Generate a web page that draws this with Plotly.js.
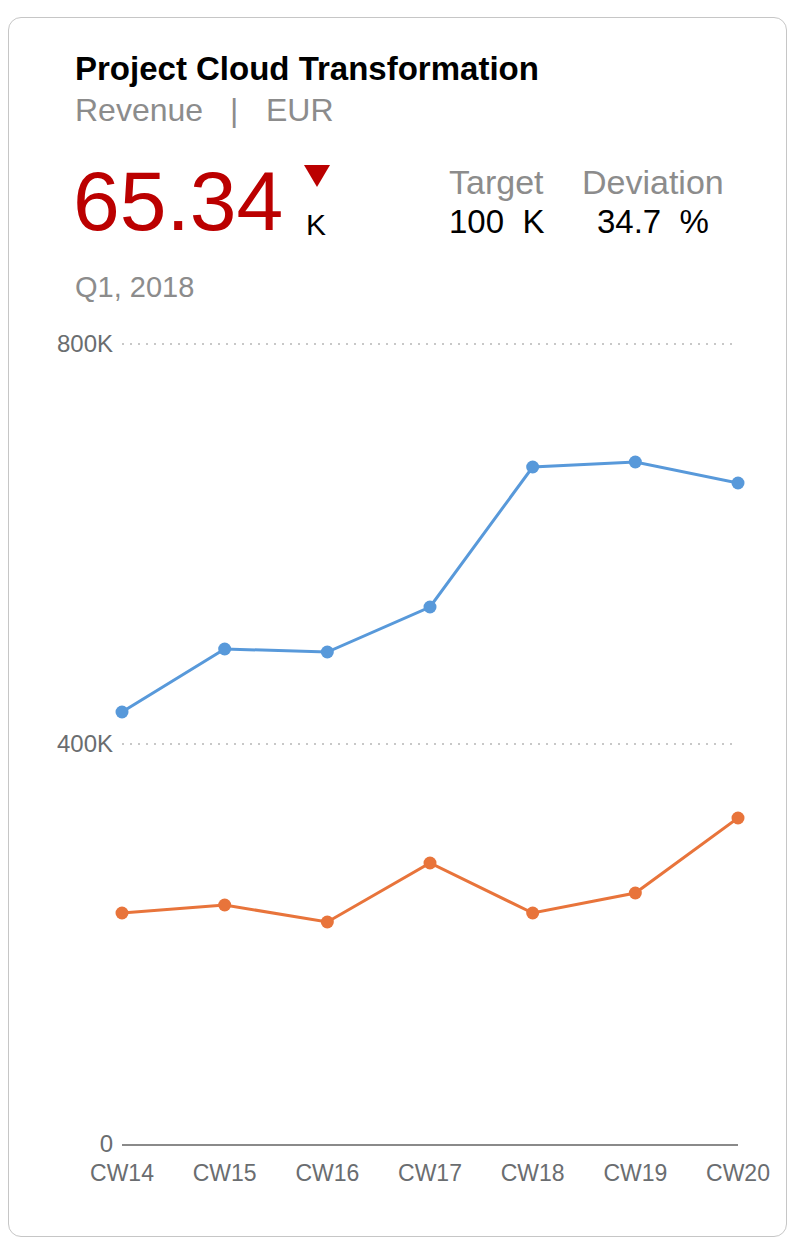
<!DOCTYPE html>
<html>
<head>
<meta charset="utf-8">
<script src="https://cdn.plot.ly/plotly-3.0.1.min.js"></script>
<style>
  html, body { margin: 0; padding: 0; background: #ffffff; }
  body { width: 796px; height: 1254px; position: relative; overflow: hidden;
         font-family: "Liberation Sans", Arial, sans-serif; }
  .card { position: absolute; left: 8px; top: 17px; width: 779px; height: 1220px;
          border: 1px solid #c6c6c6; border-radius: 13px; box-sizing: border-box; }
  .t { position: absolute; white-space: pre; line-height: 1; }
  #chart { position: absolute; left: 0; top: 0; width: 796px; height: 1254px; }
  .tri { position: absolute; left: 304px; top: 165px; width: 0; height: 0;
         border-left: 13px solid transparent; border-right: 13px solid transparent;
         border-top: 22px solid #bb0000; }
</style>
</head>
<body>
<div class="card"></div>
<div id="chart"></div>
<div class="t" style="left:75px; top:52px; font-size:33px; font-weight:bold; color:#000;">Project Cloud Transformation</div>
<div class="t" style="left:75px; top:94px; font-size:32px; color:#8c8c8c;">Revenue</div>
<div class="t" style="left:230px; top:94px; font-size:32px; color:#8c8c8c;">|</div>
<div class="t" style="left:266px; top:94px; font-size:32px; color:#8c8c8c;">EUR</div>
<div class="t" style="left:73px; top:159px; font-size:84px; color:#bb0000;">65.34</div>
<div class="tri"></div>
<div class="t" style="left:306px; top:210px; font-size:30px; color:#000;">K</div>
<div class="t" style="left:449px; top:165px; font-size:34px; color:#8c8c8c;">Target</div>
<div class="t" style="left:582px; top:165px; font-size:34px; color:#8c8c8c;">Deviation</div>
<div class="t" style="left:449px; top:205px; font-size:33px; color:#000;">100  K</div>
<div class="t" style="left:597px; top:205px; font-size:33px; color:#000;">34.7  %</div>
<div class="t" style="left:75px; top:273px; font-size:29px; color:#8c8c8c;">Q1, 2018</div>
<script>
// Calendar weeks shown on the x axis
const weeks = ['CW14', 'CW15', 'CW16', 'CW17', 'CW18', 'CW19', 'CW20'];
// Weekly revenue in thousands of EUR
const revenueActual = [432, 495, 492, 537, 677, 682, 661];
const revenueSecond = [231, 239, 222, 281, 231, 251, 326];
// Value axis ticks
const yTickValues = [0, 400, 800];
const yTickLabels = ['0', '400K', '800K'];

const xIdx = weeks.map((_, i) => i);

const traces = [
  {
    x: xIdx, y: revenueActual, type: 'scatter', mode: 'lines+markers',
    line: { color: '#5899DA', width: 3 },
    marker: { color: '#5899DA', size: 13 },
    cliponaxis: false, hoverinfo: 'skip'
  },
  {
    x: xIdx, y: revenueSecond, type: 'scatter', mode: 'lines+markers',
    line: { color: '#E8743B', width: 3 },
    marker: { color: '#E8743B', size: 13 },
    cliponaxis: false, hoverinfo: 'skip'
  }
];

const layout = {
  width: 796, height: 1254,
  margin: { l: 122, r: 58, t: 342, b: 110 },
  paper_bgcolor: 'rgba(0,0,0,0)', plot_bgcolor: 'rgba(0,0,0,0)',
  showlegend: false,
  font: { family: '"Liberation Sans", Arial, sans-serif', color: '#6a6d70', size: 23 },
  xaxis: {
    range: [0, 6], tickvals: xIdx, ticktext: weeks,
    showgrid: false, zeroline: false,
    showline: true, linecolor: '#8a8a8a', linewidth: 2,
    ticks: '', ticklabelstandoff: 7,
    tickfont: { size: 23, color: '#6a6d70' }, fixedrange: true
  },
  yaxis: {
    range: [0, 802], tickvals: yTickValues, ticktext: yTickLabels,
    showgrid: true, gridcolor: '#c8c8c8', gridwidth: 2, griddash: '2px,6px',
    zeroline: false, showline: false, ticks: '', ticklabelstandoff: 8,
    tickfont: { size: 24, color: '#6a6d70' }, fixedrange: true
  }
};

Plotly.newPlot('chart', traces, layout, { staticPlot: true, displayModeBar: false });
</script>
</body>
</html>
